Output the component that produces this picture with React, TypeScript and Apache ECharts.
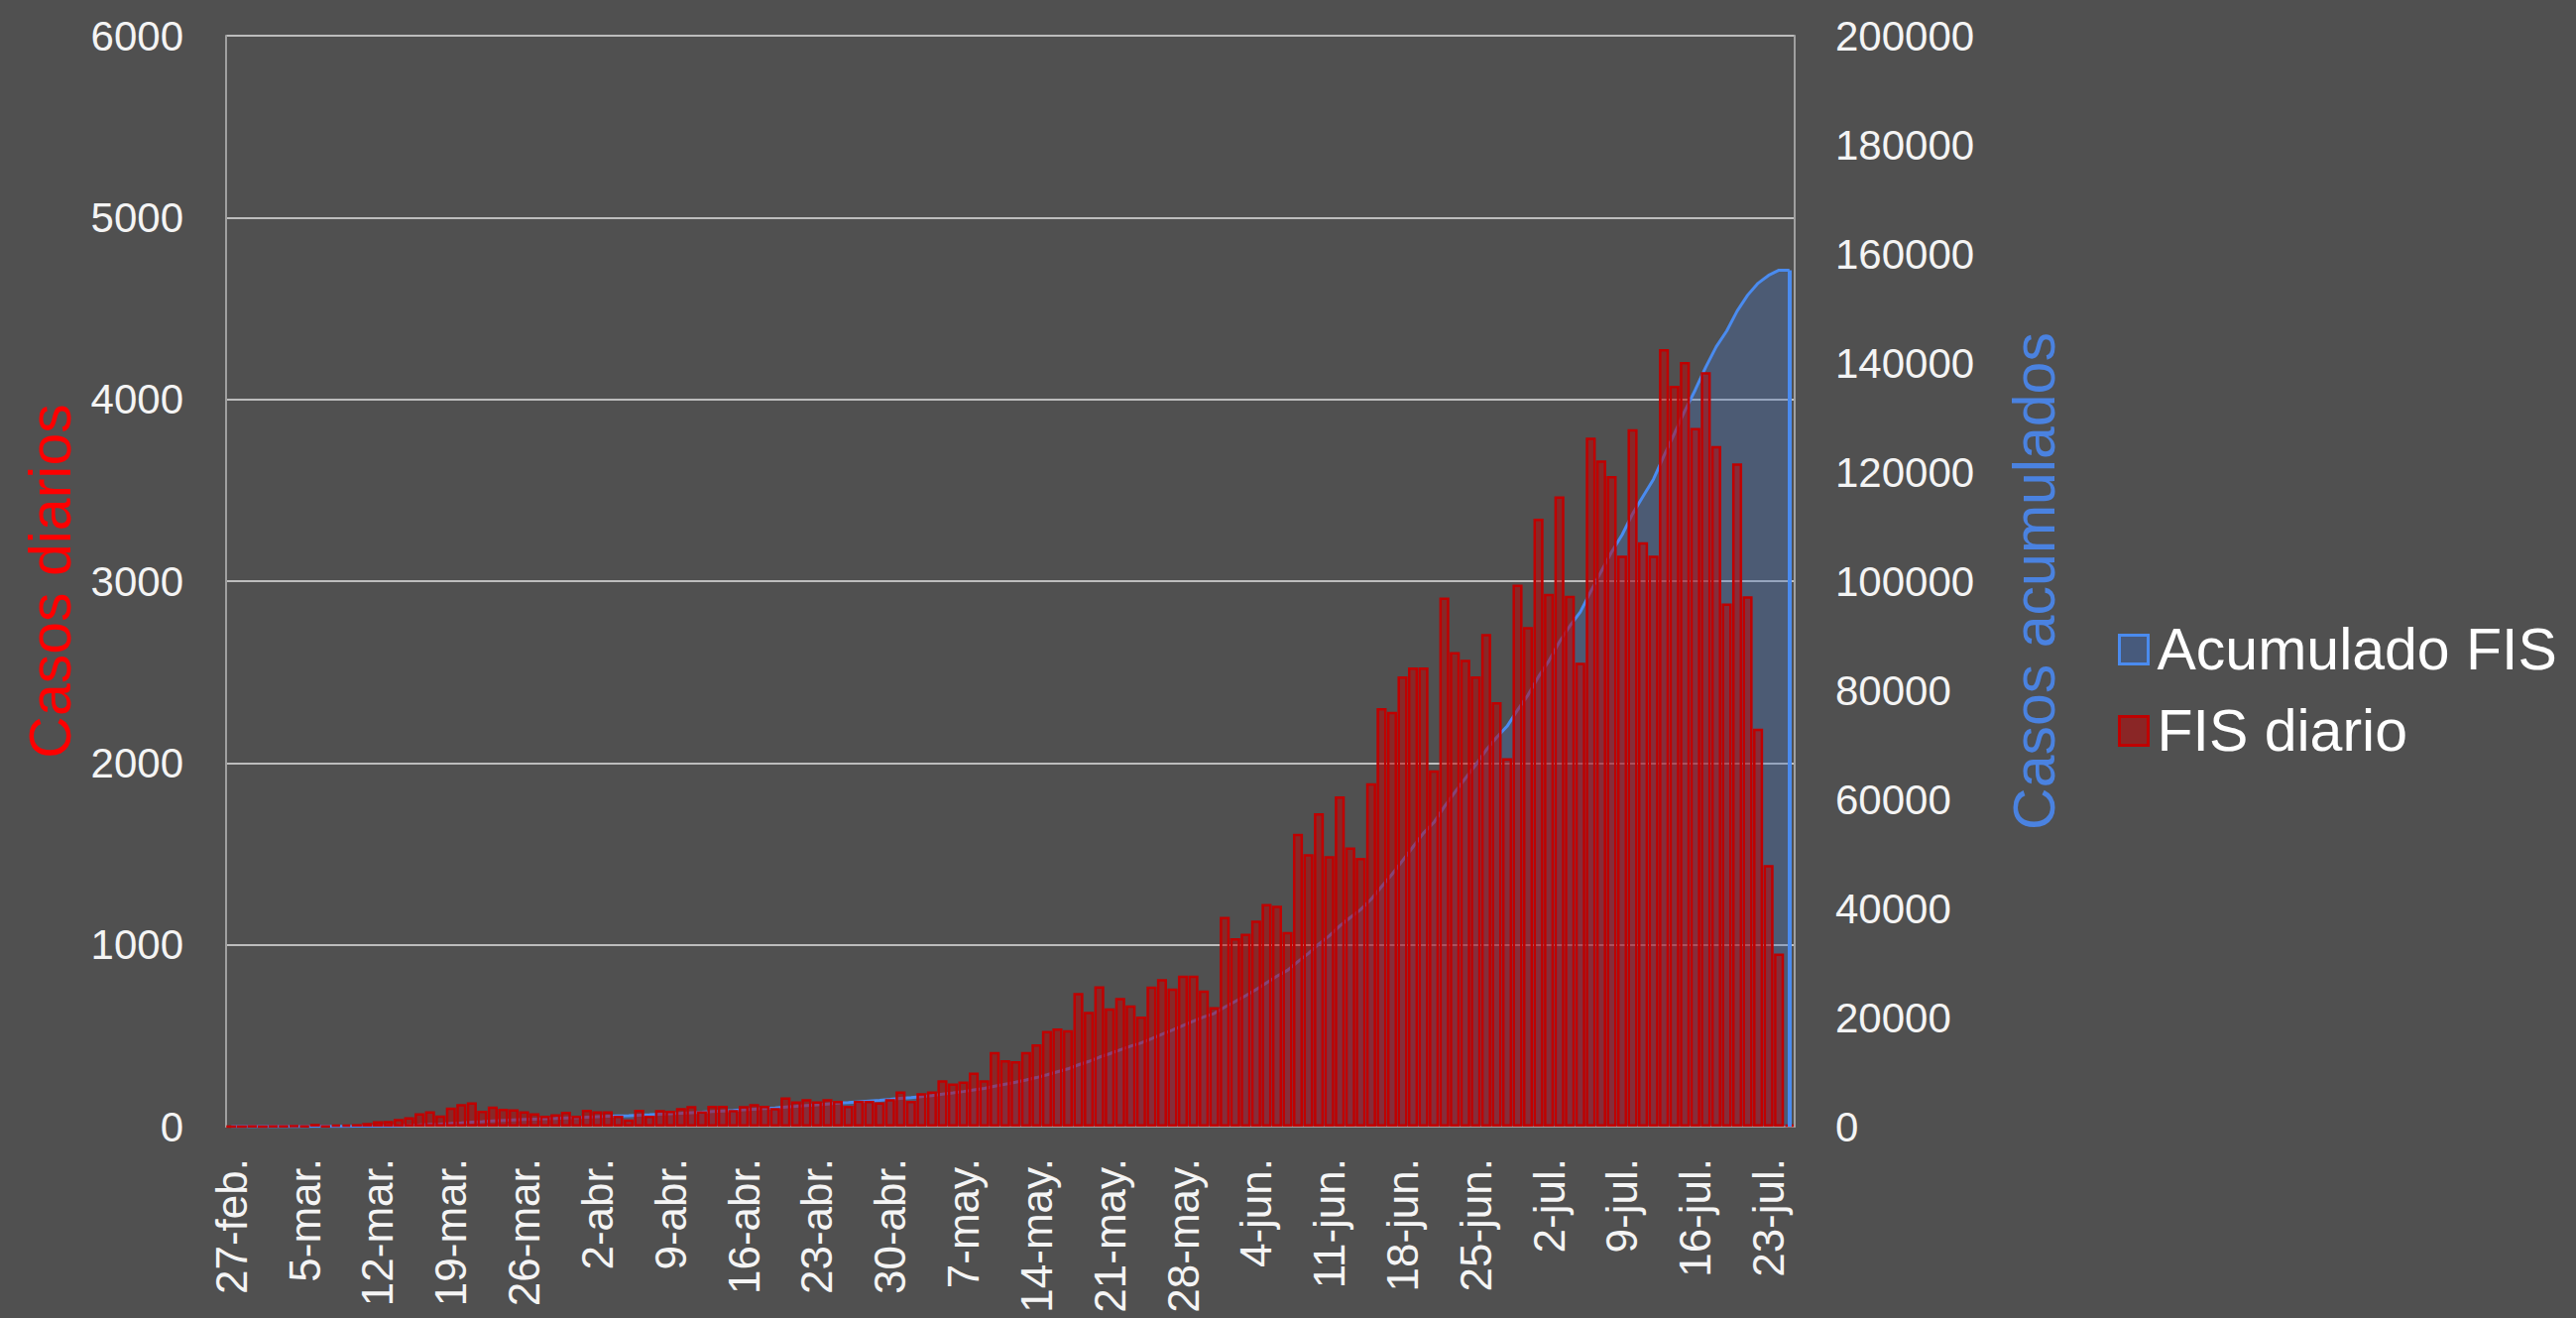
import React, { useEffect, useRef } from "react";
import * as echarts from "echarts";

// Spanish month abbreviations and their day ranges shown on the category axis
const MONTHS = ["feb.", "mar.", "abr.", "may.", "jun.", "jul."];
const MONTH_FIRST_DAY = [27, 1, 1, 1, 1, 1];
const MONTH_LAST_DAY = [29, 31, 30, 31, 30, 25];

// Daily cases by FIS (fecha de inicio de síntomas), 27-feb .. 25-jul
const fisDiario = [
  1, 0, 2, 1, 3, 3, 5, 4, 15, 4,
  10, 12, 14, 20, 30, 32, 42, 52, 73, 84,
  62, 105, 124, 133, 87, 111, 98, 95, 84, 73,
  60, 68, 82, 60, 93, 84, 84, 60, 40, 93,
  60, 91, 87, 102, 113, 84, 115, 115, 91, 113,
  124, 115, 102, 161, 139, 151, 139, 151, 142, 115,
  142, 142, 133, 151, 193, 142, 184, 193, 255, 237,
  248, 297, 255, 411, 365, 360, 411, 453, 526, 540,
  530, 735, 631, 772, 650, 708, 667, 605, 770, 811,
  759, 831, 831, 749, 657, 1153, 1036, 1061, 1133, 1225,
  1215, 1071, 1611, 1498, 1724, 1488, 1816, 1535, 1478, 1888,
  2302, 2282, 2476, 2525, 2525, 1960, 2910, 2610, 2568, 2476,
  2710, 2334, 2026, 2981, 2748, 3344, 2930, 3466, 2919, 2552,
  3790, 3664, 3578, 3141, 3836, 3214, 3141, 4276, 4074, 4206,
  3843, 4150, 3743, 2877, 3648, 2917, 2189, 1438, 952, 10,
];

const SERIES_NAMES = ["Acumulado FIS", "FIS diario"];
const LEFT_AXIS_NAME = "Casos diarios";
const RIGHT_AXIS_NAME = "Casos acumulados";

const FONT = "'Liberation Sans', Arial, sans-serif";

function buildCategories(): string[] {
  const out: string[] = [];
  for (let m = 0; m < MONTHS.length; m++) {
    for (let d = MONTH_FIRST_DAY[m]; d <= MONTH_LAST_DAY[m]; d++) {
      out.push(d + "-" + MONTHS[m]);
    }
  }
  return out;
}

export default function App() {
  const ref = useRef<HTMLDivElement>(null);

  useEffect(() => {
    if (!ref.current) return;
    const chart = echarts.init(ref.current, null, { renderer: "svg" });
    const categories = buildCategories();
    // "Acumulado" is the running total of the daily series
    const acumulado: number[] = [];
    let run = 0;
    for (const v of fisDiario) {
      run += v;
      acumulado.push(run);
    }
    const lastCat = categories[categories.length - 1];
    const total = acumulado[acumulado.length - 1];

    const labelColor = "#f4f4f4";
    const plain = (v: number) => String(v);

    chart.setOption({
      animation: false,
      backgroundColor: "#505050",
      textStyle: { fontFamily: FONT },
      grid: { left: 228, right: 788, top: 36, bottom: 193, containLabel: false },
      legend: {
        orient: "vertical",
        left: 2131,
        top: 620,
        icon: "rect",
        itemWidth: 29,
        itemHeight: 29,
        itemGap: 22,
        textStyle: { color: "#ffffff", fontSize: 59, lineHeight: 60, fontFamily: FONT, padding: [0, 0, 0, 4] },
        data: [
          { name: SERIES_NAMES[0], itemStyle: { color: "#475a7c", borderColor: "#4a8bef", borderWidth: 3 } },
          { name: SERIES_NAMES[1], itemStyle: { color: "#8a2626", borderColor: "#c00000", borderWidth: 3 } },
        ],
      },
      xAxis: {
        type: "category",
        data: categories,
        boundaryGap: true,
        axisLine: { show: true, lineStyle: { color: "#a0a0a0", width: 2 } },
        axisTick: { show: false },
        axisLabel: {
          interval: 6,
          rotate: 90,
          margin: 32,
          color: labelColor,
          fontSize: 44,
          fontFamily: FONT,
        },
        splitLine: { show: false },
      },
      yAxis: [
        {
          type: "value",
          min: 0,
          max: 6000,
          interval: 1000,
          name: LEFT_AXIS_NAME,
          nameLocation: "middle",
          nameRotate: 90,
          nameGap: 140,
          nameTextStyle: { color: "#ff0000", fontSize: 59, fontFamily: FONT },
          axisLine: { show: true, lineStyle: { color: "#a0a0a0", width: 2 } },
          axisTick: { show: false },
          axisLabel: { color: labelColor, fontSize: 42, margin: 43, fontFamily: FONT, formatter: plain },
          splitLine: { show: true, lineStyle: { color: "#bdbdbd", width: 2 } },
        },
        {
          type: "value",
          min: 0,
          max: 200000,
          interval: 20000,
          name: RIGHT_AXIS_NAME,
          nameLocation: "middle",
          nameRotate: 90,
          nameGap: 212,
          nameTextStyle: { color: "#4a82e0", fontSize: 59, fontFamily: FONT },
          axisLine: { show: true, lineStyle: { color: "#a0a0a0", width: 2 } },
          axisTick: { show: false },
          axisLabel: { color: labelColor, fontSize: 42, margin: 41, fontFamily: FONT, formatter: plain },
          splitLine: { show: false },
        },
      ],
      series: [
        {
          name: SERIES_NAMES[0],
          type: "line",
          yAxisIndex: 1,
          z: 1,
          data: acumulado,
          symbol: "none",
          showSymbol: false,
          lineStyle: { color: "#4a8bef", width: 3 },
          itemStyle: { color: "#4a8bef" },
          areaStyle: { color: "rgba(68,114,196,0.45)" },
          markLine: {
            silent: true,
            symbol: "none",
            label: { show: false },
            lineStyle: { color: "#4a8bef", width: 4, type: "solid" },
            data: [[{ coord: [lastCat, 0] }, { coord: [lastCat, total] }]],
          },
        },
        {
          name: SERIES_NAMES[1],
          type: "bar",
          yAxisIndex: 0,
          z: 2,
          data: fisDiario,
          barCategoryGap: "4%",
          itemStyle: {
            color: "rgba(192,0,0,0.5)",
            borderColor: "#c00000",
            borderWidth: 2.5,
          },
        },
      ],
    });

    return () => {
      chart.dispose();
    };
  }, []);

  return (
    <div
      ref={ref}
      style={{ position: "absolute", left: 0, top: 0, width: 2598, height: 1329 }}
    />
  );
}
